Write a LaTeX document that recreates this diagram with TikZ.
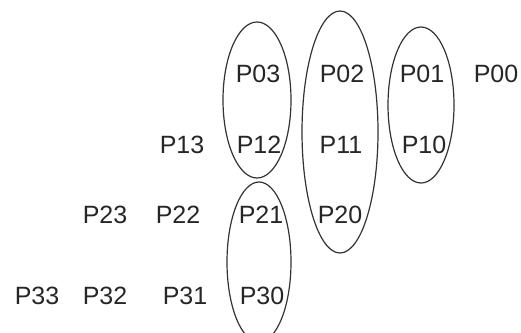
\documentclass[tikz,border=0pt]{standalone}
\usepackage{fontspec}
\setmainfont{Liberation Sans}
\begin{document}
\begin{tikzpicture}[x=1pt,y=-1pt,
  lbl/.style={inner sep=0pt,font=\fontsize{25}{25}\selectfont,text=black!85},
  ring/.style={draw=black!80,line width=1.2pt}]
\useasboundingbox (0,0) rectangle (521,332);
\clip (0,0) rectangle (521,332);
% row 0
\node[lbl] (p03) at (258,74) {P03};
\node[lbl] (p02) at (342,74) {P02};
\node[lbl] (p01) at (422,74) {P01};
\node[lbl] (p00) at (496,74) {P00};
% row 1
\node[lbl] (p13) at (182,145) {P13};
\node[lbl] (p12) at (259,145) {P12};
\node[lbl] (p11) at (341,145) {P11};
\node[lbl] (p10) at (424,145) {P10};
% row 2
\node[lbl] (p23) at (105,215) {P23};
\node[lbl] (p22) at (178,215) {P22};
\node[lbl] (p21) at (261,215) {P21};
\node[lbl] (p20) at (340,215) {P20};
% row 3
\node[lbl] (p33) at (37,296) {P33};
\node[lbl] (p32) at (105,296) {P32};
\node[lbl] (p31) at (185,296) {P31};
\node[lbl] (p30) at (262,296) {P30};
% ellipses
\draw[ring] (257,100) ellipse [x radius=34, y radius=78];
\draw[ring] (340,132) ellipse [x radius=38, y radius=121];
\draw[ring] (421,105) ellipse [x radius=33, y radius=78];
\draw[ring] (259,262) ellipse [x radius=32, y radius=80];
\end{tikzpicture}
\end{document}
